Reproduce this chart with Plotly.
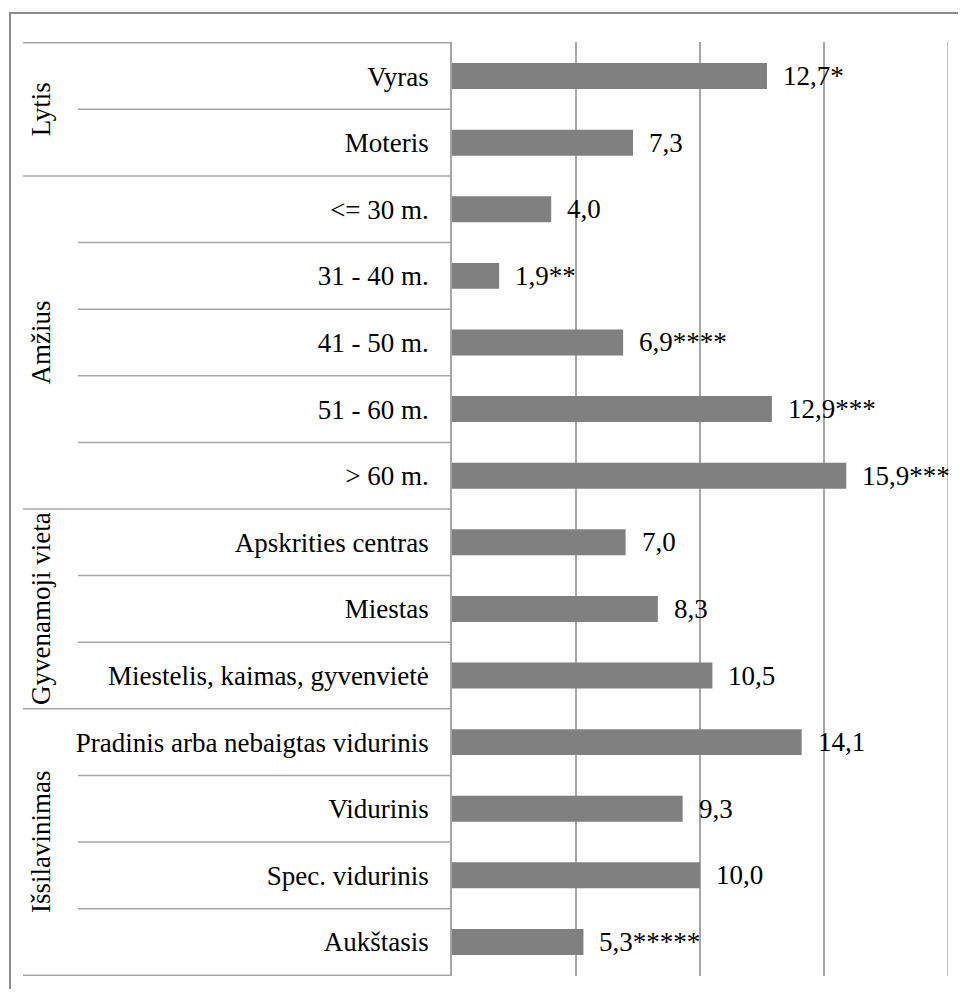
import plotly.graph_objects as go

categories = ["Vyras", "Moteris", "<= 30 m.", "31 - 40 m.", "41 - 50 m.", "51 - 60 m.", "> 60 m.",
              "Apskrities centras", "Miestas", "Miestelis, kaimas, gyvenvietė",
              "Pradinis arba nebaigtas vidurinis", "Vidurinis", "Spec. vidurinis", "Aukštasis"]
values = [12.7, 7.3, 4.0, 1.9, 6.9, 12.9, 15.9, 7.0, 8.3, 10.5, 14.1, 9.3, 10.0, 5.3]
value_labels = ["12,7*", "7,3", "4,0", "1,9**", "6,9****", "12,9***", "15,9***",
                "7,0", "8,3", "10,5", "14,1", "9,3", "10,0", "5,3*****"]
groups = ["Lytis", "Amžius", "Gyvenamoji vieta", "Išsilavinimas"]
group_sizes = [2, 5, 3, 4]

OFF = 8  # browser body margin
W, H = 950, 981
ML, MT = 452 - OFF, 42 - OFF
PW, PH = 496, 934
MR, MB = W - ML - PW, H - MT - PH

def px_x(p):  # reference screen pixel -> paper x
    return (p - OFF - ML) / PW

def px_y(p):
    return 1 - (p - OFF - MT) / PH

FONT = "Liberation Serif, Times New Roman, serif"
FS = 27
GRID = "#a6a6a6"

fig = go.Figure()
fig.add_trace(go.Bar(
    x=values, y=categories, orientation="h",
    marker=dict(color="#808080", line=dict(width=0)),
    width=0.39, hoverinfo="skip",
))

for c, v, t in zip(categories, values, value_labels):
    fig.add_annotation(x=v, y=c, xref="x", yref="y", text=t, showarrow=False,
                       xanchor="left", yanchor="middle", xshift=14,
                       font=dict(family=FONT, size=FS, color="black"))

shapes = []
start = 0
bounds = [-0.5]
for g, n in zip(groups, group_sizes):
    center = start + (n - 1) / 2
    fig.add_annotation(x=px_x(41), y=center, xref="paper", yref="y", text=g,
                       textangle=-90, showarrow=False, xanchor="center", yanchor="middle",
                       font=dict(family=FONT, size=FS, color="black"))
    for k in range(1, n):
        shapes.append(dict(type="line", xref="paper", yref="y", x0=px_x(78), x1=0,
                           y0=start + k - 0.5, y1=start + k - 0.5,
                           line=dict(color=GRID, width=1.5)))
    start += n
    bounds.append(start - 0.5)
for b in bounds:
    shapes.append(dict(type="line", xref="paper", yref="y", x0=px_x(23), x1=0,
                       y0=b, y1=b, line=dict(color=GRID, width=1.5)))
# gridline at the right end of the value axis
shapes.append(dict(type="line", xref="x", yref="paper", x0=20, x1=20, y0=0, y1=1,
                   line=dict(color=GRID, width=1.5)))
# outer chart border
shapes.append(dict(type="rect", xref="paper", yref="paper", x0=px_x(10), x1=1.3,
                   y0=-0.2, y1=px_y(13), line=dict(color="#8c8c8c", width=2),
                   fillcolor="rgba(0,0,0,0)"))

fig.update_layout(
    width=W, height=H,
    margin=dict(l=ML, r=MR, t=MT, b=MB),
    paper_bgcolor="white", plot_bgcolor="white",
    showlegend=False, shapes=shapes,
    font=dict(family=FONT, size=FS, color="black"),
)
fig.update_xaxes(range=[0, 20], dtick=5, tick0=0, showgrid=True, gridcolor=GRID, gridwidth=1.5,
                 showticklabels=False, zeroline=False, showline=False, ticks="")
fig.update_yaxes(categoryorder="array", categoryarray=categories, autorange="reversed",
                 showline=True, linecolor=GRID, linewidth=1.5, ticks="", ticklabelstandoff=16,
                 tickfont=dict(family=FONT, size=FS, color="black"), showgrid=False)

fig.write_html("out.html")
